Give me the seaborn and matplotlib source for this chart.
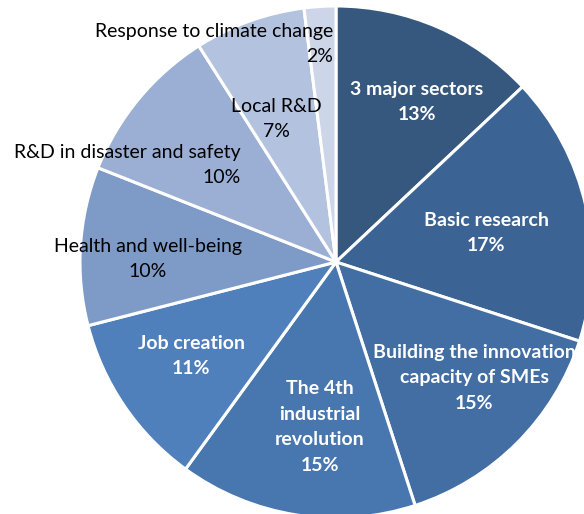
import matplotlib.pyplot as plt
import seaborn as sns

sns.set_theme(style="white")
plt.rcParams['font.family'] = ['Lato', 'DejaVu Sans']

## data
sectors = ['3 major sectors', 'Basic research', 'Building the innovation\ncapacity of SMEs',
           'The 4th\nindustrial\nrevolution', 'Job creation', 'Health and well-being',
           'R&D in disaster and safety', 'Local R&D', 'Response to climate change']
shares = [13, 17, 15, 15, 11, 10, 10, 7, 2]
colors = ['#36587F', '#3B6394', '#426EA3', '#4877B0', '#4F80BC',
          '#7E9BC8', '#9AAFD3', '#B3C2DF', '#CDD5E9']

## label placement (image pixels, y from top); right-aligned ones use right edge
label_xy = [(417, 102), (486, 233), (474, 378), (320, 427), (191, 356),
            (148, 259), (241, 165), (276, 119), (333, 44)]
label_align = ['center'] * 6 + ['right', 'center', 'right']

W, H = 584, 514
fig = plt.figure(figsize=(W / 100, H / 100), dpi=100)
ax = fig.add_axes([0, 0, 1, 1])
ax.pie(shares, colors=colors, startangle=90, counterclock=False,
       center=(336, H - 262), radius=256,
       wedgeprops=dict(edgecolor='white', linewidth=2.2))
ax.set_xlim(0, W)
ax.set_ylim(0, H)
ax.set_aspect('equal')
ax.axis('off')

for i, (name, val) in enumerate(zip(sectors, shares)):
    x, y = label_xy[i]
    dark = i < 5
    ax.text(x, H - y, f'{name}\n{val}%', ha=label_align[i], va='center',
            multialignment=label_align[i], fontsize=14,
            color='white' if dark else 'black',
            fontweight='bold' if dark else 'normal', linespacing=1.6)

fig.savefig('out.png', dpi=100)
